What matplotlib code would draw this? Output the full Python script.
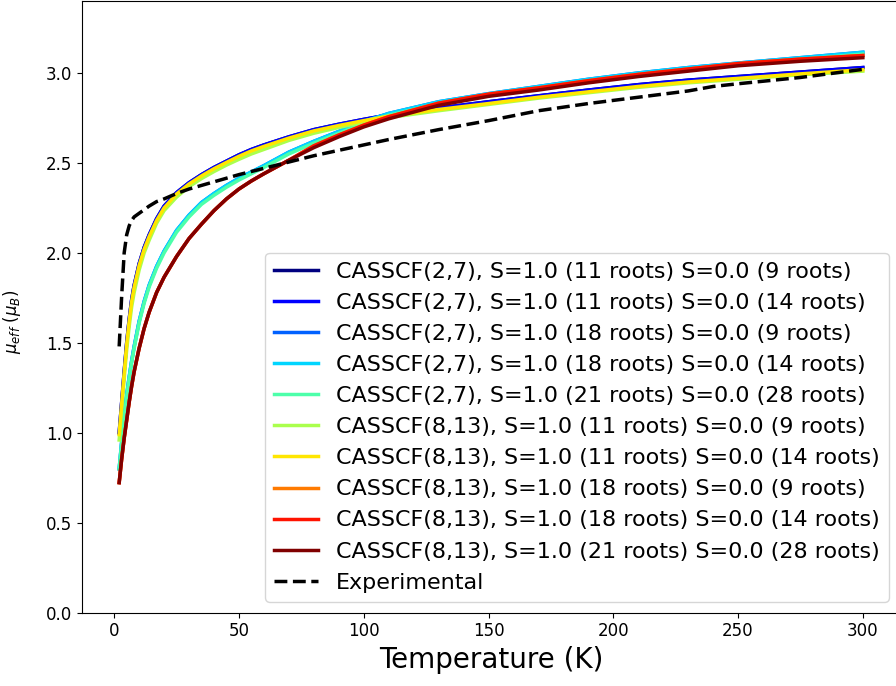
import numpy as np
import matplotlib
matplotlib.use("Agg")
import matplotlib.pyplot as plt

# 温度グリッド (K)
temps = [2, 3, 4, 5, 6, 7, 8, 10, 12, 14, 17, 20, 25, 30, 35, 40, 45, 50, 55, 60,
         70, 80, 90, 100, 110, 130, 150, 170, 190, 210, 230, 250, 275, 300]

labels = [
    "CASSCF(2,7), S=1.0 (11 roots) S=0.0 (9 roots)",
    "CASSCF(2,7), S=1.0 (11 roots) S=0.0 (14 roots)",
    "CASSCF(2,7), S=1.0 (18 roots) S=0.0 (9 roots)",
    "CASSCF(2,7), S=1.0 (18 roots) S=0.0 (14 roots)",
    "CASSCF(2,7), S=1.0 (21 roots) S=0.0 (28 roots)",
    "CASSCF(8,13), S=1.0 (11 roots) S=0.0 (9 roots)",
    "CASSCF(8,13), S=1.0 (11 roots) S=0.0 (14 roots)",
    "CASSCF(8,13), S=1.0 (18 roots) S=0.0 (9 roots)",
    "CASSCF(8,13), S=1.0 (18 roots) S=0.0 (14 roots)",
    "CASSCF(8,13), S=1.0 (21 roots) S=0.0 (28 roots)",
]

mu_27_11_9 = [1.00, 1.17, 1.34, 1.50, 1.63, 1.74, 1.82, 1.94, 2.03, 2.10, 2.19, 2.26, 2.335, 2.39,
              2.435, 2.475, 2.51, 2.545, 2.575, 2.60, 2.645, 2.685, 2.715, 2.742, 2.767, 2.805, 2.84,
              2.873, 2.905, 2.935, 2.96, 2.98, 3.005, 3.03]
mu_27_11_14 = [1.00, 1.17, 1.34, 1.50, 1.63, 1.74, 1.82, 1.94, 2.03, 2.10, 2.19, 2.26, 2.335, 2.39,
               2.435, 2.475, 2.51, 2.545, 2.575, 2.60, 2.645, 2.685, 2.715, 2.742, 2.767, 2.805, 2.84,
               2.873, 2.905, 2.935, 2.96, 2.98, 3.005, 3.03]
mu_27_18_9 = [0.80, 0.95, 1.09, 1.21, 1.31, 1.40, 1.48, 1.62, 1.73, 1.82, 1.925, 2.01, 2.125, 2.21,
              2.28, 2.33, 2.375, 2.415, 2.45, 2.485, 2.56, 2.62, 2.675, 2.73, 2.775, 2.84, 2.885,
              2.925, 2.965, 3.00, 3.03, 3.055, 3.085, 3.115]
mu_27_18_14 = [0.80, 0.95, 1.09, 1.21, 1.31, 1.40, 1.48, 1.62, 1.73, 1.82, 1.925, 2.01, 2.125, 2.21,
               2.28, 2.33, 2.375, 2.415, 2.45, 2.485, 2.56, 2.62, 2.675, 2.73, 2.775, 2.84, 2.885,
               2.925, 2.965, 3.00, 3.03, 3.055, 3.085, 3.115]
mu_27_21_28 = [0.80, 0.94, 1.08, 1.20, 1.30, 1.39, 1.47, 1.61, 1.72, 1.81, 1.915, 2.00, 2.115, 2.20,
               2.27, 2.32, 2.365, 2.405, 2.44, 2.475, 2.55, 2.61, 2.665, 2.72, 2.765, 2.83, 2.875,
               2.915, 2.955, 2.99, 3.02, 3.045, 3.075, 3.105]
mu_813_11_9 = [0.96, 1.13, 1.30, 1.46, 1.59, 1.70, 1.78, 1.905, 2.00, 2.07, 2.165, 2.235, 2.31, 2.368,
               2.413, 2.452, 2.488, 2.52, 2.55, 2.575, 2.625, 2.665, 2.697, 2.727, 2.752, 2.79, 2.825,
               2.86, 2.89, 2.92, 2.945, 2.965, 2.99, 3.01]
mu_813_11_14 = [0.99, 1.16, 1.33, 1.49, 1.62, 1.73, 1.81, 1.93, 2.02, 2.09, 2.18, 2.25, 2.327, 2.383,
                2.428, 2.468, 2.503, 2.537, 2.567, 2.592, 2.638, 2.678, 2.708, 2.735, 2.76, 2.797, 2.83,
                2.865, 2.895, 2.925, 2.95, 2.97, 2.995, 3.018]
mu_813_18_9 = [0.723, 0.855, 0.97, 1.07, 1.17, 1.26, 1.34, 1.47, 1.58, 1.67, 1.78, 1.865, 1.98, 2.08,
               2.16, 2.235, 2.30, 2.355, 2.40, 2.44, 2.515, 2.595, 2.655, 2.71, 2.757, 2.832, 2.882,
               2.917, 2.957, 2.992, 3.022, 3.052, 3.077, 3.097]
mu_813_18_14 = [0.723, 0.855, 0.97, 1.07, 1.17, 1.26, 1.34, 1.47, 1.58, 1.67, 1.78, 1.865, 1.98, 2.08,
                2.16, 2.235, 2.30, 2.355, 2.40, 2.44, 2.515, 2.595, 2.655, 2.71, 2.757, 2.832, 2.882,
                2.917, 2.957, 2.992, 3.022, 3.052, 3.077, 3.097]
mu_813_21_28 = [0.723, 0.855, 0.97, 1.07, 1.17, 1.26, 1.34, 1.47, 1.58, 1.67, 1.78, 1.865, 1.98, 2.08,
                2.16, 2.235, 2.30, 2.355, 2.40, 2.44, 2.515, 2.585, 2.645, 2.70, 2.745, 2.82, 2.87,
                2.905, 2.945, 2.98, 3.01, 3.04, 3.065, 3.085]

# 実験値
exp_temps = [2, 3, 4, 5, 6, 7, 8, 10, 12, 14, 17, 20, 25, 30, 35, 40, 45, 50, 60, 70, 80, 90,
             100, 110, 130, 150, 170, 190, 210, 230, 240, 250, 275, 300]
exp_mu = [1.48, 1.76, 2.00, 2.10, 2.15, 2.18, 2.20, 2.22, 2.24, 2.26, 2.285, 2.30, 2.33, 2.355,
          2.375, 2.395, 2.415, 2.435, 2.47, 2.505, 2.54, 2.57, 2.60, 2.63, 2.685, 2.735, 2.79,
          2.83, 2.865, 2.90, 2.925, 2.94, 2.975, 3.02]

series = [mu_27_11_9, mu_27_11_14, mu_27_18_9, mu_27_18_14, mu_27_21_28,
          mu_813_11_9, mu_813_11_14, mu_813_18_9, mu_813_18_14, mu_813_21_28]

colors = plt.cm.jet(np.linspace(0, 1, len(series)))

fig = plt.figure(figsize=(8.96, 6.86), dpi=100)
ax = fig.add_axes([82 / 896, 73.3 / 686, 818 / 896, 611.7 / 686])

for mu, label, c in zip(series, labels, colors):
    ax.plot(temps, mu, color=c, lw=2.5, label=label)
ax.plot(exp_temps, exp_mu, "k--", lw=2.5, label="Experimental")

ax.set_ylim(0, 3.4)
ax.set_xlabel("Temperature (K)", fontsize=20)
ax.set_ylabel(r"$\mu_{eff}$ ($\mu_B$)", fontsize=12)
ax.yaxis.set_label_coords(-0.072, 0.475)
ax.tick_params(labelsize=12)
ax.legend(loc="lower right", fontsize=16)

fig.savefig("out.png", dpi=100)
